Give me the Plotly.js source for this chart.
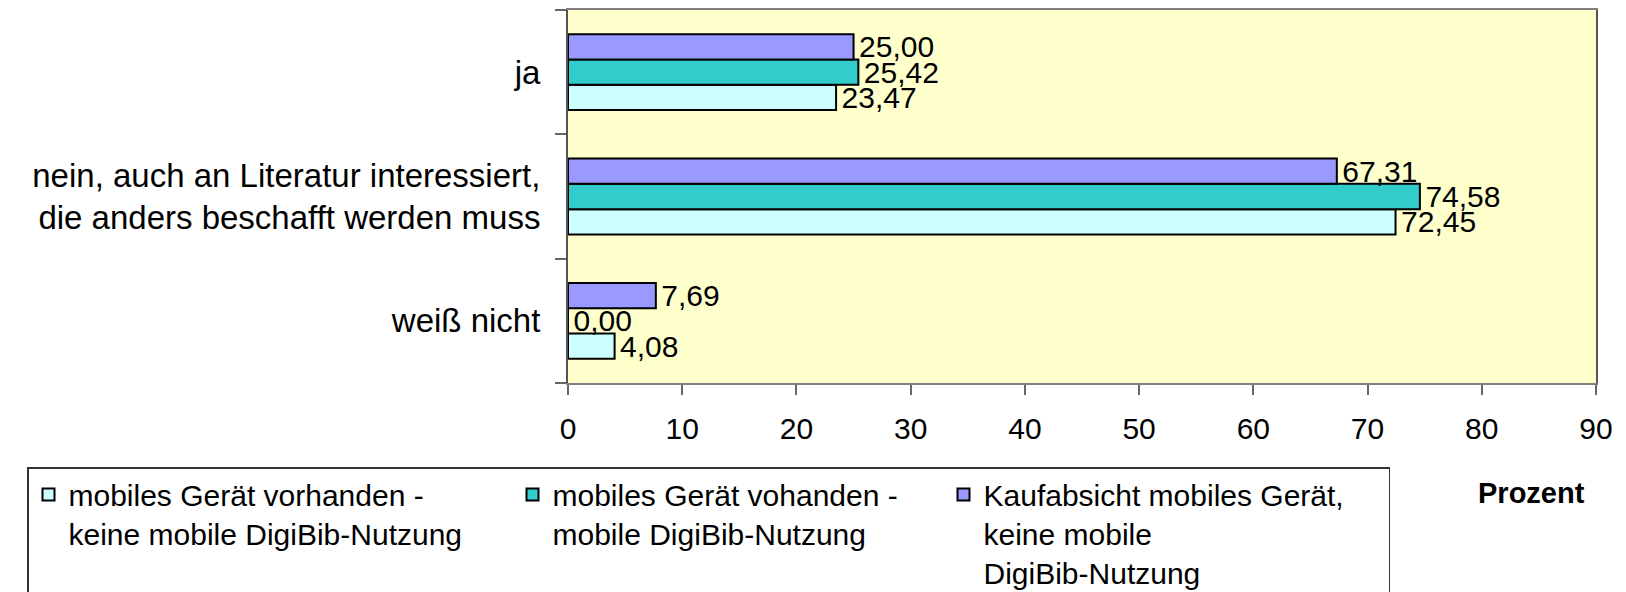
<!DOCTYPE html>
<html>
<head>
<meta charset="utf-8">
<script src="https://cdn.plot.ly/plotly-3.0.1.min.js"></script>
<style>html,body{margin:0;padding:0;background:#fff;}#chart{width:1626px;height:592px;}</style>
</head>
<body>
<div id="chart"></div>
<script>
// Categories (bottom to top)
const categories = [
  "weiß nicht",
  "nein, auch an Literatur interessiert,<br>die anders beschafft werden muss",
  "ja"
];
const seriesNames = [
  "mobiles Gerät vorhanden -<br>keine mobile DigiBib-Nutzung",
  "mobiles Gerät vohanden -<br>mobile DigiBib-Nutzung",
  "Kaufabsicht mobiles Gerät,<br>keine mobile<br>DigiBib-Nutzung"
];
const noMobileUse = [4.08, 72.45, 23.47];
const mobileUse = [0.00, 74.58, 25.42];
const purchaseIntent = [7.69, 67.31, 25.00];
const seriesColors = ["#CCFFFF", "#33CCCC", "#9999FF"];
const xTicks = [0, 10, 20, 30, 40, 50, 60, 70, 80, 90];

const FONT = "Liberation Sans, Arial, sans-serif";
const seriesValues = [noMobileUse, mobileUse, purchaseIntent];
const legendWidths = [439, 386, 400];

const W = 1626, H = 592;
const M = { l: 568, r: 30, t: 10, b: 209 };
const plotW = W - M.l - M.r, plotH = H - M.t - M.b;
const toPaperX = px => (px - M.l) / plotW;
const toPaperY = py => 1 - (py - M.t) / plotH;

const traces = seriesValues.map((vals, i) => ({
  type: "bar",
  orientation: "h",
  name: seriesNames[i],
  y: categories,
  x: vals,
  legendwidth: legendWidths[i],
  marker: { color: seriesColors[i], line: { color: "#000000", width: 2 } },
  texttemplate: "\u200a%{x:.2f}",
  textposition: "outside",
  constraintext: "none",
  cliponaxis: false,
  textfont: { family: FONT, size: 30, color: "#000000" },
  hoverinfo: "x+name"
}));

const layout = {
  width: W,
  height: H,
  margin: { l: M.l, r: M.r, t: M.t, b: M.b, autoexpand: false },
  paper_bgcolor: "#ffffff",
  plot_bgcolor: "#FFFFCC",
  separators: ",.",
  barmode: "group",
  bargap: 0.39,
  bargroupgap: 0,
  font: { family: FONT, size: 30, color: "#000000" },
  showlegend: true,
  xaxis: {
    range: [0, 90],
    tickvals: xTicks,
    ticks: "outside",
    ticklen: 10,
    tickwidth: 2,
    tickcolor: "#666666",
    showgrid: false,
    zeroline: false,
    showline: true,
    linecolor: "#808080",
    linewidth: 2,
    mirror: true,
    ticklabelstandoff: 8,
    tickfont: { family: FONT, size: 30, color: "#000000" }
  },
  yaxis: {
    type: "category",
    categoryorder: "array",
    categoryarray: categories,
    tickson: "boundaries",
    ticks: "outside",
    ticklen: 11,
    tickwidth: 2,
    tickcolor: "#666666",
    showgrid: false,
    zeroline: false,
    showline: true,
    linecolor: "#555555",
    linewidth: 2,
    mirror: true,
    ticklabelstandoff: 19,
    tickfont: { family: FONT, size: 33, color: "#000000" }
  },
  legend: {
    orientation: "h",
    xref: "paper",
    yref: "paper",
    x: toPaperX(27),
    xanchor: "left",
    y: toPaperY(467),
    yanchor: "top",
    valign: "top",
    traceorder: "normal",
    bordercolor: "#333333",
    borderwidth: 1.5,
    bgcolor: "#ffffff",
    font: { family: FONT, size: 30, color: "#000000" }
  },
  annotations: [{
    text: "<b>Prozent</b>",
    xref: "paper",
    yref: "paper",
    x: toPaperX(1531),
    y: toPaperY(493),
    xanchor: "center",
    yanchor: "middle",
    showarrow: false,
    font: { family: FONT, size: 29, color: "#000000" }
  }]
};

Plotly.newPlot("chart", traces, layout, { displayModeBar: false, staticPlot: true });
</script>
</body>
</html>
